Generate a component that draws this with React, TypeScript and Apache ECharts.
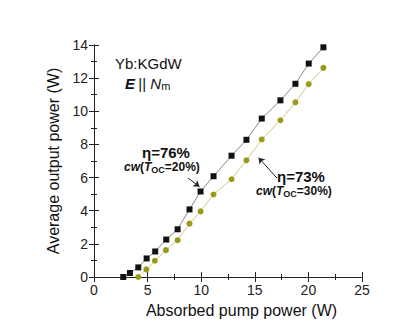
import React, { useEffect, useRef } from "react";
import * as echarts from "echarts";

const pumpA = [2.73, 3.35, 4.13, 4.91, 5.71, 6.74, 7.8, 8.91, 9.94, 11.15, 12.83, 14.22, 15.65, 17.39, 18.79, 20.03, 21.4];
const outA = [0.0, 0.24, 0.58, 1.12, 1.54, 2.26, 2.88, 4.08, 5.16, 6.08, 7.32, 8.28, 9.56, 10.66, 11.66, 12.88, 13.86];
const pumpB = [4.13, 4.88, 5.68, 6.71, 7.8, 8.91, 9.94, 11.15, 12.83, 14.22, 15.65, 17.39, 18.79, 20.03, 21.4];
const outB = [0.0, 0.46, 0.98, 1.62, 2.22, 3.22, 3.96, 4.98, 5.9, 7.04, 8.3, 9.46, 10.54, 11.64, 12.62];

const arrowA = [[8.77, 5.97], [9.85, 5.45]];
const arrowB = [[17.07, 5.97], [15.35, 7.2]];

const FONT = "Liberation Sans, Arial, sans-serif";

const cwRich = {
  bi: { fontSize: 12, lineHeight: 14, fontWeight: "bold", fontStyle: "italic", fontFamily: FONT, fill: "#111" },
  b: { fontSize: 12, lineHeight: 14, fontWeight: "bold", fontFamily: FONT, fill: "#111" },
  sub: { fontSize: 9, lineHeight: 8, verticalAlign: "bottom", fontWeight: "bold", fontFamily: FONT, fill: "#111" },
};

export default function App() {
  const ref = useRef<HTMLDivElement>(null);
  useEffect(() => {
    const chart = echarts.init(ref.current!, undefined, { renderer: "svg" });
    const axisLine = { show: true, lineStyle: { color: "#222", width: 1 } };
    const tick = { show: true, inside: true, length: 5, lineStyle: { color: "#222" } };
    const minor = { show: true, splitNumber: 2, length: 3, lineStyle: { color: "#222" } };
    const xCommon = { type: "value", min: 0, max: 25, interval: 5, axisLine, axisTick: tick, minorTick: minor, splitLine: { show: false } };
    const yCommon = { type: "value", min: 0, max: 14, interval: 2, axisLine, axisTick: tick, minorTick: minor, splitLine: { show: false } };
    const labelStyle = { color: "#222", fontSize: 14, fontFamily: FONT };
    chart.setOption({
      animation: false,
      grid: { left: 94, right: 52, top: 45, bottom: 52 },
      xAxis: [
        {
          ...xCommon,
          position: "bottom",
          name: "Absorbed pump power (W)",
          nameLocation: "middle",
          nameGap: 25,
          nameTextStyle: { color: "#111", fontSize: 16, fontFamily: FONT, padding: [0, 0, 0, 27] },
          axisLabel: { ...labelStyle, margin: 6 },
        },
        { ...xCommon, position: "top", axisLabel: { show: false } },
      ],
      yAxis: [
        {
          ...yCommon,
          position: "left",
          name: "Average output power (W)",
          nameLocation: "middle",
          nameGap: 29,
          nameTextStyle: { color: "#111", fontSize: 16, fontFamily: FONT },
          axisLabel: { ...labelStyle, margin: 6 },
        },
        { ...yCommon, position: "right", axisLabel: { show: false } },
      ],
      series: [
        {
          type: "line",
          data: pumpA.map((x, i) => [x, outA[i]]),
          symbol: "rect",
          symbolSize: 6,
          itemStyle: { color: "#111" },
          lineStyle: { color: "#888", width: 1 },
          markLine: {
            silent: true,
            symbol: ["none", "arrow"],
            symbolSize: 6,
            label: { show: false },
            lineStyle: { color: "#222", width: 1, type: "solid" },
            data: [
              [{ coord: arrowA[0] }, { coord: arrowA[1] }],
              [{ coord: arrowB[0] }, { coord: arrowB[1] }],
            ],
          },
        },
        {
          type: "line",
          data: pumpB.map((x, i) => [x, outB[i]]),
          symbol: "circle",
          symbolSize: 6,
          itemStyle: { color: "#9a9a18" },
          lineStyle: { color: "#cccc88", width: 1 },
        },
      ],
      graphic: [
        {
          type: "text",
          left: 115,
          top: 56,
          style: { text: "Yb:KGdW", font: `15px ${FONT}`, fill: "#111" },
        },
        {
          type: "text",
          left: 125,
          top: 76,
          style: {
            text: "{bi|E} {n||| }{i|N}{sub|m}",
            rich: {
              bi: { fontSize: 15, lineHeight: 16, fontWeight: "bold", fontStyle: "italic", fontFamily: FONT, fill: "#111" },
              n: { fontSize: 15, lineHeight: 16, fontFamily: FONT, fill: "#111" },
              i: { fontSize: 15, lineHeight: 16, fontStyle: "italic", fontFamily: FONT, fill: "#111" },
              sub: { fontSize: 11, lineHeight: 10, verticalAlign: "bottom", fontFamily: FONT, fill: "#111" },
            },
          },
        },
        {
          type: "text",
          left: 142,
          top: 145,
          style: {
            text: "{b|η=76%}",
            rich: { b: { fontSize: 15, lineHeight: 15, fontWeight: "bold", fontFamily: FONT, fill: "#111" } },
          },
        },
        {
          type: "text",
          left: 124,
          top: 161,
          style: { text: "{bi|cw}{b|(}{bi|T}{sub|OC}{b|=20%)}", rich: cwRich },
        },
        {
          type: "text",
          left: 277,
          top: 169,
          style: {
            text: "{b|η=73%}",
            rich: { b: { fontSize: 15, lineHeight: 15, fontWeight: "bold", fontFamily: FONT, fill: "#111" } },
          },
        },
        {
          type: "text",
          left: 256,
          top: 185,
          style: { text: "{bi|cw}{b|(}{bi|T}{sub|OC}{b|=30%)}", rich: cwRich },
        },
      ],
    });
    return () => chart.dispose();
  }, []);
  return <div ref={ref} style={{ width: 414, height: 329, position: "absolute", left: 0, top: 0 }} />;
}
